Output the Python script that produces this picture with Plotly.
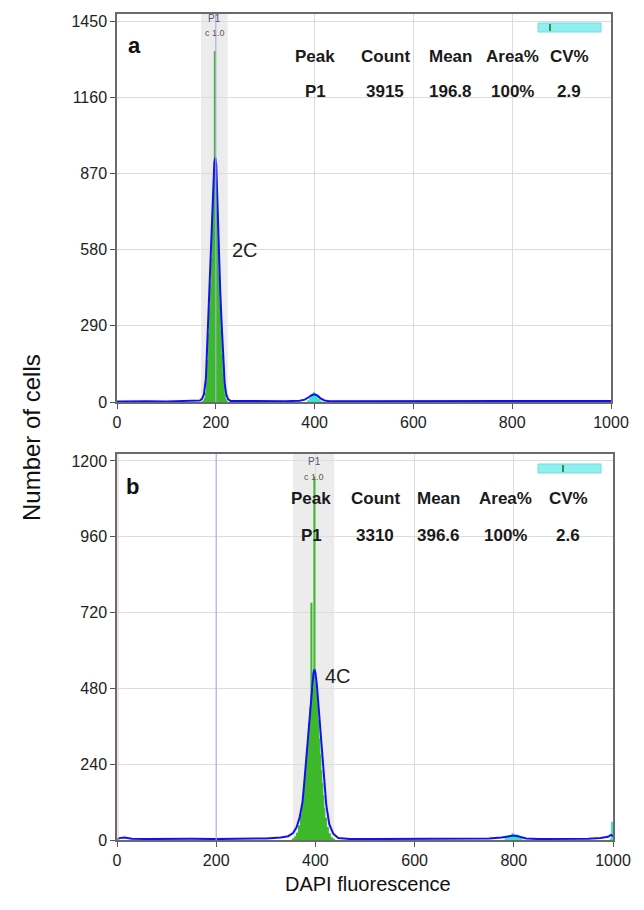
import plotly.graph_objects as go

# ---------------- data ----------------
# Panel a (2C)
top_blue_x = [0, 20, 60, 100, 140, 160, 168, 172, 176, 180, 184, 188, 191, 194, 197, 199, 201, 204, 206, 209,
              212, 215, 218, 221, 225, 230, 260, 300, 340, 370, 380, 388, 394, 400, 406, 412, 420, 430, 480, 550,
              600, 700, 800, 900, 960, 1000]
top_blue_y = [2, 3, 3, 2, 3, 4, 6, 12, 30, 90, 290, 480, 600, 780, 910, 930, 900, 720, 580, 420,
              290, 150, 70, 30, 10, 4, 3, 3, 3, 5, 9, 18, 26, 29, 24, 14, 6, 3, 3, 3,
              4, 3, 3, 3, 3, 4]
top_green_x = [172, 174, 176, 178, 180, 182, 184, 186, 188, 190, 192, 194, 196, 198, 200, 202, 204, 206, 208, 210,
               212, 214, 216, 218, 220, 222, 224]
top_green_y = [0, 2, 6, 15, 35, 80, 160, 260, 360, 450, 550, 680, 820, 1335, 860, 720, 600, 480, 370, 270,
               180, 110, 60, 28, 10, 3, 0]
top_cyan_x = [384, 388, 392, 394, 396, 398, 400, 402, 404, 408, 412, 416]
top_cyan_y = [0, 6, 14, 22, 30, 36, 34, 28, 20, 10, 4, 0]

# Panel b (4C)
bot_blue_x = [0, 5, 15, 30, 60, 100, 150, 200, 250, 300, 330, 345, 355, 362, 368, 374, 378, 382, 386, 390,
              393, 396, 398, 400, 403, 406, 410, 414, 418, 422, 428, 436, 446, 470, 520, 600, 700, 750, 775, 790,
              800, 810, 825, 850, 900, 950, 975, 990, 996, 1000]
bot_blue_y = [2, 6, 8, 4, 3, 4, 4, 3, 4, 5, 8, 12, 22, 40, 70, 120, 190, 270, 350, 430,
              490, 528, 540, 530, 490, 430, 340, 260, 180, 110, 50, 20, 6, 3, 3, 3, 3, 5, 8, 12,
              14, 11, 5, 3, 3, 4, 6, 10, 16, 12]
bot_green_x = [352, 356, 360, 364, 368, 372, 376, 380, 384, 388, 390, 392, 394, 396, 398, 400, 402, 404, 406, 408,
               410, 412, 414, 416, 418, 420, 424, 428, 432, 436, 440]
bot_green_y = [0, 4, 10, 22, 45, 85, 140, 210, 290, 370, 420, 750, 460, 480, 1150, 495, 470, 430, 380, 320,
               270, 220, 180, 140, 100, 70, 40, 20, 8, 3, 0]
bot_cyan_x = [780, 786, 790, 794, 798, 802, 806, 812, 820]
bot_cyan_y = [0, 8, 14, 10, 20, 12, 16, 6, 0]
bot_spike_x = [994, 996, 998, 1000]
bot_spike_y = [0, 5, 57, 0]

top_yticks = [0, 290, 580, 870, 1160, 1450]
bot_yticks = [0, 240, 480, 720, 960, 1200]
xticks = [0, 200, 400, 600, 800, 1000]

top_gate = [170, 224]
bot_gate = [355, 438]
ref_line_x = 200

table_header = ["Peak", "Count", "Mean", "Area%", "CV%"]
top_row = ["P1", "3915", "196.8", "100%", "2.9"]
bot_row = ["P1", "3310", "396.6", "100%", "2.6"]

# ---------------- figure ----------------
OFF = 8  # page body margin of the html page
W, H = 644 - OFF, 910 - OFF
FONT = "Arial, Liberation Sans, sans-serif"
GREEN = "#3cb82a"
BLUE = "#1212f0"
CYAN = "#3fe3c4"

def py(p):
    return 1 - (p - OFF) / H

def px(p):
    return (p - OFF) / W

fig = go.Figure()

def add_panel(xa, ya, bx, by, gx, gy, extras):
    fig.add_trace(go.Scatter(x=gx, y=gy, mode="lines", line=dict(color=GREEN, width=1, shape="hvh"),
                             fill="tozeroy", fillcolor=GREEN, xaxis=xa, yaxis=ya, showlegend=False))
    for ex, ey in extras:
        fig.add_trace(go.Scatter(x=ex, y=ey, mode="lines", line=dict(color=CYAN, width=1, shape="hvh"),
                                 fill="tozeroy", fillcolor=CYAN, xaxis=xa, yaxis=ya, showlegend=False))
    fig.add_trace(go.Scatter(x=bx, y=by, mode="lines", line=dict(color=BLUE, width=2),
                             xaxis=xa, yaxis=ya, showlegend=False))

add_panel("x", "y", top_blue_x, top_blue_y, top_green_x, top_green_y, [(top_cyan_x, top_cyan_y)])
add_panel("x2", "y2", bot_blue_x, bot_blue_y, bot_green_x, bot_green_y,
          [(bot_cyan_x, bot_cyan_y), (bot_spike_x, bot_spike_y)])

axis_common = dict(showline=True, linecolor="#6a6a6a", linewidth=1.5, mirror=True, automargin=False,
                   showgrid=True, gridcolor="#dcdcdc", gridwidth=1, zeroline=False,
                   ticks="outside", ticklen=5, tickcolor="#555555",
                   tickfont=dict(family=FONT, size=16, color="#222222"))

fig.update_layout(
    template="none",
    width=W, height=H, margin=dict(l=0, r=0, t=0, b=0, pad=0),
    paper_bgcolor="white", plot_bgcolor="white",
    xaxis=dict(domain=[px(117), px(611)], range=[0, 1000], tickvals=xticks, anchor="y", **axis_common),
    yaxis=dict(domain=[py(402), py(14)], range=[0, 1477], tickvals=top_yticks, anchor="x", **axis_common),
    xaxis2=dict(domain=[px(117), px(613)], range=[0, 1000], tickvals=xticks, anchor="y2", **axis_common),
    yaxis2=dict(domain=[py(840), py(454)], range=[0, 1222], tickvals=bot_yticks, anchor="x2", **axis_common),
)

shapes = []
for xr, yr, gate in (("x", "y", top_gate), ("x2", "y2", bot_gate)):
    shapes.append(dict(type="rect", xref=xr, yref=yr + " domain", x0=gate[0], x1=gate[1], y0=0, y1=1,
                       fillcolor="#ececec", line=dict(width=0), layer="below"))
    shapes.append(dict(type="line", xref=xr, yref=yr + " domain", x0=ref_line_x, x1=ref_line_x, y0=0, y1=1,
                       line=dict(color="#aeaeea", width=1.3), opacity=0.85, layer="above"))
# left pinkish edge in panel b
shapes.append(dict(type="line", xref="x2", yref="y2 domain", x0=2, x1=2, y0=0, y1=1,
                   line=dict(color="#ecc4c4", width=1), layer="above"))
# cyan scale bars
for top_px, mark_px in ((23, 550), (464, 563)):
    shapes.append(dict(type="rect", xref="paper", yref="paper", x0=px(538), x1=px(601),
                       y0=py(top_px + 9), y1=py(top_px), fillcolor="#8ff0f0",
                       line=dict(color="#7ad8e0", width=1)))
    shapes.append(dict(type="line", xref="paper", yref="paper", x0=px(mark_px), x1=px(mark_px),
                       y0=py(top_px + 8), y1=py(top_px + 1), line=dict(color="#1d6b1d", width=1.5)))
fig.update_layout(shapes=shapes)

ann = []
def txt(x, y, s, size, bold=False, color="#111111", xref="paper", yref="paper", xanchor="center", angle=0):
    ann.append(dict(x=x, y=y, xref=xref, yref=yref, text=("<b>%s</b>" % s) if bold else s,
                    showarrow=False, xanchor=xanchor, yanchor="middle", textangle=angle,
                    font=dict(family=FONT, size=size, color=color)))

# panel letters
txt(px(126), py(45), "a", 22, bold=True, xanchor="left")
txt(px(124), py(487), "b", 22, bold=True, xanchor="left")

# tables
top_cols = [315, 385, 450, 512, 569]
bot_cols = [311, 375, 438, 505, 568]
for cols, ytop, yrow, row in ((top_cols, 56, 91, top_row), (bot_cols, 498, 535, bot_row)):
    for cx, h, r in zip(cols, table_header, row):
        txt(px(cx), py(ytop), h, 17, bold=True, color="#1a1a1a")
        txt(px(cx), py(yrow), r, 17, bold=True, color="#1a1a1a")

# gate labels
for xr, gx, y1, y2 in (("x", 198, 18, 33), ("x2", 398, 461, 477)):
    txt(gx, py(y1), "P1", 10, color="#555577", xref=xr)
    txt(gx, py(y2), "c 1.0", 9, color="#665555", xref=xr)

# peak labels
txt(229, 580, "2C", 20, xref="x", yref="y", xanchor="left", color="#222222")
txt(416, 519, "4C", 20, xref="x2", yref="y2", xanchor="left", color="#222222")

# axis titles
txt(px(368), py(884), "DAPI fluorescence", 20, color="#111111")
txt(px(31), py(438), "Number of cells", 24, color="#111111", angle=-90)

fig.update_layout(annotations=ann)
fig.write_html("out.html")
